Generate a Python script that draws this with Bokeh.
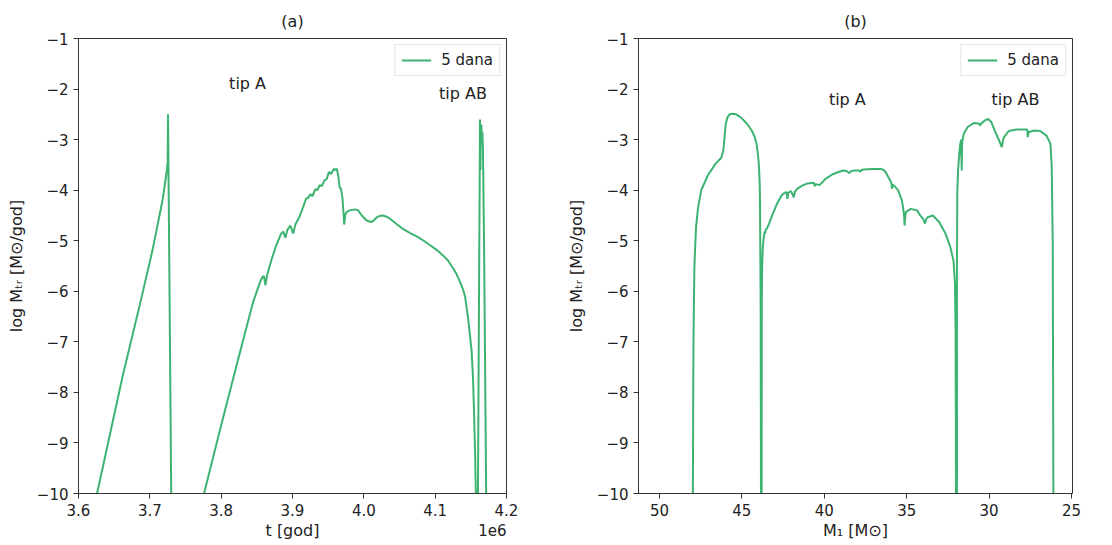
import numpy as np
from bokeh.plotting import figure
from bokeh.layouts import row
from bokeh.models import Range1d, FixedTicker, Label
from bokeh.embed import file_html
from bokeh.resources import INLINE

# ---------------- data ----------------
SERIES_NAME = "5 dana"
T_SCALE = 1e6  # time values below are in units of 1e6 god

# panel (a): time [1e6 god] vs log Mdot
t_a1 = [3.626, 3.6617, 3.6874, 3.7037, 3.7178, 3.7230, 3.7250, 3.7255, 3.7300]
y_a1 = [-10.0, -7.69, -6.18, -5.19, -4.20, -3.70, -3.45, -2.50, -10.0]

t_a2 = [3.776, 3.800, 3.825, 3.845, 3.8555, 3.8578, 3.860, 3.862, 3.8645, 3.870,
        3.877, 3.884, 3.887, 3.890, 3.893, 3.897, 3.901, 3.904, 3.910, 3.915,
        3.919, 3.922, 3.925, 3.928, 3.932, 3.935, 3.938, 3.941, 3.945, 3.948,
        3.951, 3.954, 3.958, 3.960, 3.962, 3.964, 3.966, 3.968, 3.970, 3.9715,
        3.9725, 3.974, 3.976, 3.980, 3.984, 3.988, 3.992, 3.996, 3.999, 4.003,
        4.006, 4.010, 4.013, 4.018, 4.022, 4.027, 4.031, 4.036, 4.045, 4.054,
        4.065, 4.076, 4.085, 4.093, 4.102, 4.111, 4.118, 4.124, 4.130, 4.135,
        4.139, 4.142, 4.146, 4.149, 4.151, 4.153, 4.154, 4.156, 4.157]
y_a2 = [-10.0, -8.65, -7.28, -6.20, -5.78, -5.72, -5.70, -5.88, -5.68, -5.40,
        -5.10, -4.86, -4.82, -4.94, -4.78, -4.70, -4.86, -4.68, -4.52, -4.33,
        -4.17, -4.15, -4.08, -4.12, -3.98, -4.00, -3.90, -3.92, -3.80, -3.78,
        -3.64, -3.68, -3.58, -3.60, -3.575, -3.70, -3.94, -3.98, -4.15, -4.45,
        -4.68, -4.48, -4.43, -4.40, -4.39, -4.38, -4.40, -4.48, -4.53, -4.59,
        -4.61, -4.63, -4.61, -4.54, -4.51, -4.50, -4.52, -4.56, -4.66, -4.76,
        -4.85, -4.93, -5.01, -5.09, -5.18, -5.29, -5.39, -5.52, -5.66, -5.82,
        -5.96, -6.11, -6.51, -6.90, -7.17, -7.70, -8.15, -9.21, -10.0]

t_a3 = [4.1600, 4.1615, 4.1625, 4.1628, 4.1635, 4.1640, 4.1648, 4.1655, 4.1662,
        4.1670, 4.1685, 4.1700, 4.1715]
y_a3 = [-10.0, -6.0, -3.6, -2.6, -3.6, -2.8, -2.7, -3.0, -2.85,
        -3.2, -5.0, -7.5, -10.0]

# panel (b): M1 [Msun] vs log Mdot
m_b1 = [47.97, 47.95, 47.93, 47.88, 47.78, 47.65, 47.46, 47.07, 46.60, 46.25,
        46.12, 45.98, 45.86, 45.74, 45.55, 45.35, 45.10, 44.88, 44.65, 44.40,
        44.22, 44.11, 44.02, 43.96, 43.92, 43.90, 43.86, 43.84]
y_b1 = [-10.0, -8.0, -6.84, -5.52, -4.73, -4.33, -4.00, -3.71, -3.48, -3.36,
        -3.21, -2.69, -2.55, -2.50, -2.49, -2.50, -2.55, -2.62, -2.70, -2.82,
        -2.95, -3.08, -3.30, -3.54, -3.85, -4.20, -6.18, -10.0]

m_b2 = [43.80, 43.79, 43.77, 43.73, 43.69, 43.62, 43.58, 43.55, 43.48, 43.35,
        43.16, 42.87, 42.58, 42.40, 42.29, 42.24, 42.18, 42.01, 41.85, 41.78,
        41.63, 41.34, 41.05, 40.76, 40.62, 40.57, 40.50, 40.29, 39.90, 39.52,
        39.14, 38.85, 38.65, 38.49, 38.35, 38.20, 37.90, 37.82, 37.75, 37.62,
        37.05, 36.57, 36.40, 36.28, 36.00, 35.92, 35.90, 35.85, 35.80, 35.52,
        35.29, 35.17, 35.14, 35.13, 35.08, 35.04, 34.75, 34.37, 34.18, 33.98,
        33.89, 33.80, 33.70, 33.41, 33.03, 32.64, 32.36, 32.16, 32.07, 32.03,
        32.01]
y_b2 = [-10.0, -6.18, -5.52, -5.15, -4.99, -4.82, -4.86, -4.78, -4.76, -4.66,
        -4.50, -4.27, -4.10, -4.05, -4.04, -4.17, -4.05, -4.02, -4.14, -4.03,
        -3.97, -3.91, -3.87, -3.86, -3.86, -3.92, -3.88, -3.90, -3.77, -3.69,
        -3.64, -3.61, -3.62, -3.66, -3.62, -3.61, -3.61, -3.64, -3.60, -3.59,
        -3.58, -3.58, -3.60, -3.64, -3.81, -3.86, -3.97, -3.90, -3.90, -4.00,
        -4.20, -4.46, -4.60, -4.70, -4.50, -4.43, -4.37, -4.40, -4.50, -4.58,
        -4.66, -4.56, -4.53, -4.50, -4.63, -4.86, -5.12, -5.39, -5.85, -6.84,
        -10.0]

m_b3 = [31.95, 31.95, 31.93, 31.88, 31.84, 31.76, 31.70, 31.66, 31.64, 31.60,
        31.53, 31.30, 30.92, 30.62, 30.54, 30.48, 30.25, 30.06, 29.87, 29.75,
        29.62, 29.39, 29.23, 29.18, 29.10, 28.81, 28.33, 27.76, 27.68, 27.66,
        27.60, 27.57, 27.28, 26.90, 26.52, 26.28, 26.20, 26.14, 26.10]
y_b3 = [-10.0, -5.52, -4.07, -3.60, -3.41, -3.11, -3.00, -3.61, -3.10, -2.98,
        -2.88, -2.75, -2.67, -2.68, -2.72, -2.68, -2.62, -2.59, -2.65, -2.75,
        -2.85, -3.02, -3.15, -3.05, -2.95, -2.83, -2.80, -2.80, -2.80, -2.95,
        -2.86, -2.85, -2.82, -2.83, -2.92, -3.08, -3.54, -5.00, -10.0]

y_ticks = [-1, -2, -3, -4, -5, -6, -7, -8, -9, -10]
t_ticks = [3.6, 3.7, 3.8, 3.9, 4.0, 4.1, 4.2]
m_ticks = [50, 45, 40, 35, 30, 25]
offset_text = "1e6"

annot_a = [("tip A", 3.837, -1.89), ("tip AB", 4.139, -2.09)]
annot_b = [("tip A", 38.6, -2.2), ("tip AB", 28.4, -2.2)]

# ---------------- style ----------------
GREEN = "#3cb371"
FONT = "DejaVu Sans"
TXT = "#222222"


def join(segs_x, segs_y):
    xs, ys = [], []
    for i, (sx, sy) in enumerate(zip(segs_x, segs_y)):
        assert len(sx) == len(sy)
        if i:
            xs.append(np.nan)
            ys.append(np.nan)
        xs.extend(sx)
        ys.extend(sy)
    return np.array(xs, dtype=float), np.array(ys, dtype=float)


def minus(v):
    return ("%g" % v).replace("-", "\u2212")


def make_fig(title, x_range, frame_w, left, right):
    p = figure(frame_width=frame_w, frame_height=455,
               x_range=x_range, y_range=Range1d(-10, -1),
               output_backend="svg", toolbar_location=None,
               min_border_left=left, min_border_right=right,
               min_border_top=38, min_border_bottom=52, title=title)
    p.title.align = "center"
    p.title.text_font = FONT
    p.title.text_font_size = "16px"
    p.title.text_font_style = "normal"
    p.title.text_color = TXT
    p.title.standoff = 16
    p.grid.visible = False
    p.outline_line_color = "#333333"
    p.outline_line_width = 1
    for ax in (p.xaxis[0], p.yaxis[0]):
        ax.axis_line_color = "#333333"
        ax.major_tick_line_color = "#333333"
        ax.major_tick_out = 5
        ax.major_tick_in = 0
        ax.minor_tick_out = 0
        ax.minor_tick_in = 0
        ax.major_label_text_font = FONT
        ax.major_label_text_font_size = "15px"
        ax.major_label_text_color = TXT
        ax.axis_label_text_font = FONT
        ax.axis_label_text_font_size = "16px"
        ax.axis_label_text_font_style = "normal"
        ax.axis_label_text_color = TXT
    p.yaxis.ticker = FixedTicker(ticks=y_ticks)
    p.yaxis.major_label_overrides = {v: minus(v) for v in y_ticks}
    p.yaxis.axis_label = "log M\u209c\u1d63 [M\u2299/god]"
    p.yaxis.axis_label_standoff = 8
    p.xaxis.axis_label_standoff = 2
    return p


# panel (a)
pa = make_fig("(a)", Range1d(t_ticks[0] * T_SCALE, t_ticks[-1] * T_SCALE), 428, 78, 50)
xa, ya = join([t_a1, t_a2, t_a3], [y_a1, y_a2, y_a3])
pa.line(xa * T_SCALE, ya, line_color=GREEN, line_width=2, legend_label=SERIES_NAME)
tick_vals_a = [int(round(v * T_SCALE)) for v in t_ticks]
pa.xaxis.ticker = FixedTicker(ticks=tick_vals_a)
pa.xaxis.major_label_overrides = {tv: "%.1f" % v for tv, v in zip(tick_vals_a, t_ticks)}
pa.xaxis.axis_label = "t [god]"
for txt, x, y in annot_a:
    pa.add_layout(Label(x=x * T_SCALE, y=y, text=txt, text_align="center",
                        text_baseline="middle", text_font=FONT,
                        text_font_size="16px", text_color=TXT))
# offset text of the x axis, placed in the side panel so it is not clipped
pa.add_layout(Label(x=t_ticks[-1] * T_SCALE, y=-10.72,
                    text=offset_text, text_align="right", text_baseline="middle",
                    text_font=FONT, text_font_size="15px", text_color=TXT),
              "below")

# panel (b)
pb = make_fig("(b)", Range1d(51.27, 24.94), 434, 82, 40)
xb, yb = join([m_b1, m_b2, m_b3], [y_b1, y_b2, y_b3])
pb.line(xb, yb, line_color=GREEN, line_width=2, legend_label=SERIES_NAME)
pb.xaxis.ticker = FixedTicker(ticks=m_ticks)
pb.xaxis.axis_label = "M\u2081 [M\u2299]"
for txt, x, y in annot_b:
    pb.add_layout(Label(x=x, y=y, text=txt, text_align="center",
                        text_baseline="middle", text_font=FONT,
                        text_font_size="16px", text_color=TXT))

for p in (pa, pb):
    lg = p.legend[0]
    lg.location = "top_right"
    lg.margin = 6
    lg.padding = 6
    lg.spacing = 0
    lg.glyph_width = 30
    lg.glyph_height = 14
    lg.label_standoff = 10
    lg.label_text_font = FONT
    lg.label_text_font_size = "15px"
    lg.label_text_color = TXT
    lg.border_line_color = "#cccccc"
    lg.border_line_width = 1
    lg.background_fill_alpha = 0.8

layout = row(pa, pb)
open("out.html", "w").write(file_html(layout, INLINE))
